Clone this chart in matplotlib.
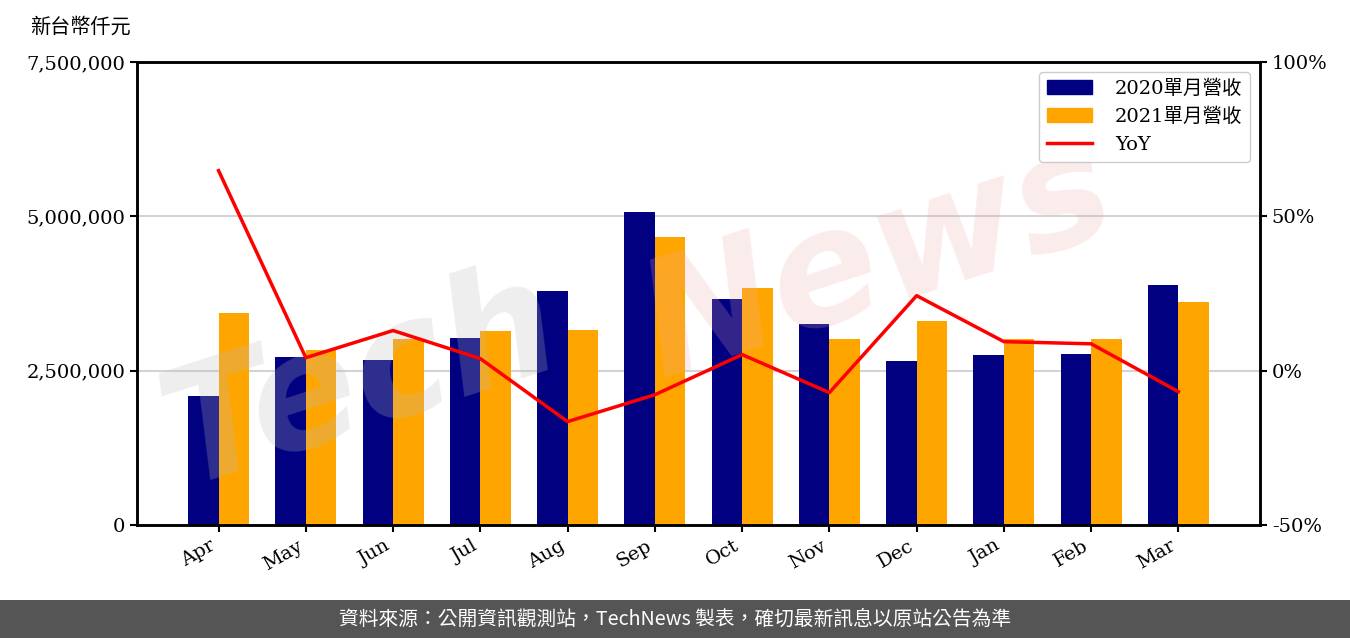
import matplotlib
matplotlib.use("Agg")
import matplotlib.pyplot as plt
import numpy as np
from matplotlib.patches import Rectangle, Patch
from matplotlib.lines import Line2D
from matplotlib.ticker import FuncFormatter

months = ["Apr", "May", "Jun", "Jul", "Aug", "Sep", "Oct", "Nov", "Dec", "Jan", "Feb", "Mar"]
rev_2020 = [2090000, 2720000, 2670000, 3030000, 3790000, 5070000, 3660000, 3260000, 2660000, 2750000, 2770000, 3890000]
rev_2021 = [3430000, 2830000, 3010000, 3140000, 3160000, 4670000, 3840000, 3010000, 3300000, 3010000, 3010000, 3610000]
yoy = [64.8, 4.2, 13.0, 3.9, -16.5, -7.8, 5.2, -7.1, 24.3, 9.4, 8.7, -6.8]
left_ticks = [0, 2500000, 5000000, 7500000]
right_ticks = [-50, 0, 50, 100]

SERIF = ["DejaVu Serif", "Noto Sans CJK TC"]
plt.rcParams["font.family"] = SERIF

fig = plt.figure(figsize=(13.5, 6.38), dpi=100)
ax = fig.add_axes([137/1350, 113/638, 1123/1350, 463/638])

x = np.arange(len(months))
w = 0.35
ax.bar(x - w/2, rev_2020, width=w, color="#000080", zorder=2)
ax.bar(x + w/2, rev_2021, width=w, color="#FFA500", zorder=2)
ax.set_ylim(0, 7500000)
ax.set_yticks(left_ticks)
ax.yaxis.set_major_formatter(FuncFormatter(lambda v, p: f"{int(v):,}"))
ax.set_xticks(x)
ax.set_xticklabels(months, rotation=30, ha="right")
ax.grid(axis="y", color="#d3d3d3", linewidth=1.5, zorder=0)
ax.set_axisbelow(True)

ax2 = ax.twinx()
ax2.plot(x, yoy, color="red", linewidth=2.5)
ax2.set_ylim(-50, 100)
ax2.set_yticks(right_ticks)
ax2.yaxis.set_major_formatter(FuncFormatter(lambda v, p: f"{int(v)}%"))

for a in (ax, ax2):
    for s in a.spines.values():
        s.set_linewidth(1.8)
    a.tick_params(labelsize=14, width=1.5, length=5)

# watermark
ax.text(0.20, 0.31, "Tech", transform=ax.transAxes, fontsize=115, family="DejaVu Sans",
        fontweight="bold", fontstyle="italic", color="#bbbbbb", alpha=0.25,
        rotation=18, ha="center", va="center", zorder=5)
ax.text(0.66, 0.57, "News", transform=ax.transAxes, fontsize=115, family="DejaVu Sans",
        fontweight="bold", fontstyle="italic", color="#eeaaaa", alpha=0.22,
        rotation=18, ha="center", va="center", zorder=5)

handles = [Patch(color="#000080", label="2020單月營收"),
           Patch(color="#FFA500", label="2021單月營收"),
           Line2D([0], [0], color="red", linewidth=2.5, label="YoY")]
leg = ax2.legend(handles=handles, loc="upper right", fontsize=14, framealpha=1.0,
                 edgecolor="#cccccc", fancybox=True, borderpad=0.4,
                 handlelength=2.3, handletextpad=1.2)

fig.text(30/1350, 1 - 27/638, "新台幣仟元", fontsize=14.5, family=["Noto Sans CJK TC"],
         ha="left", va="center")

fig.patches.append(Rectangle((0, 0), 1, 38/638, transform=fig.transFigure,
                             facecolor="#555555", edgecolor="none", zorder=0))
fig.text(0.5, 19/638, "資料來源：公開資訊觀測站，TechNews 製表，確切最新訊息以原站公告為準",
         fontsize=14.2, family=["Noto Sans CJK TC", "DejaVu Sans"], color="white",
         ha="center", va="center")

fig.savefig("out.png", dpi=100)
